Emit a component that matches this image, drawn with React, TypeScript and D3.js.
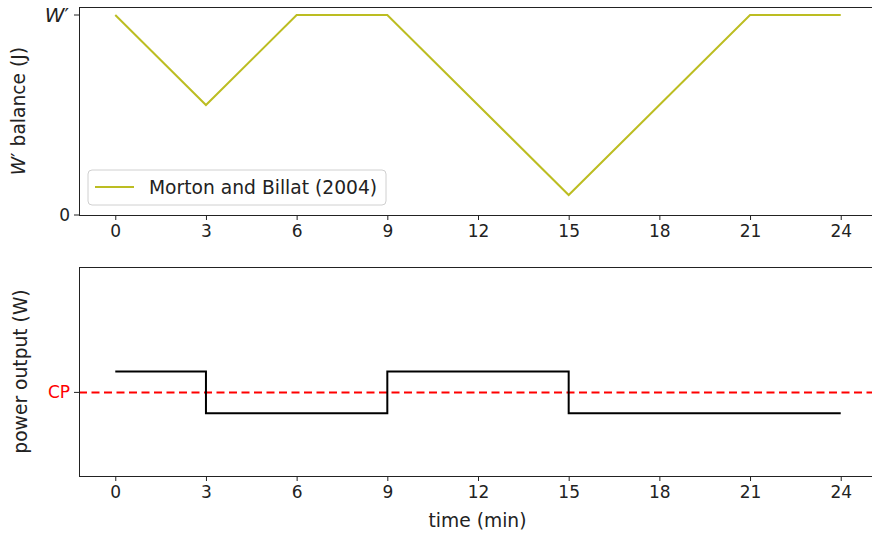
import React, { useEffect, useRef } from 'react';
import * as d3 from 'd3';

// W' balance (fraction of W') over time
const balanceTimes = [0, 3, 6, 9, 15, 21, 24];
const balanceValues = [1, 0.55, 1, 1, 0.1, 1, 1];

// power output relative to CP (step profile)
const powerTimes = [0, 3, 9, 15, 24];
const powerValues = [1.1, 0.9, 1.1, 0.9, 0.9];
const cpValue = 1.0;

const xTicks = [0, 3, 6, 9, 12, 15, 18, 21, 24];
const legendLabel = 'Morton and Billat (2004)';

const FONT = 'DejaVu Sans, sans-serif';
const LABEL_SIZE = 18.7;

const App: React.FC = () => {
  const svgRef = useRef<SVGSVGElement>(null);

  useEffect(() => {
    if (!svgRef.current) return;
    const svg = d3.select(svgRef.current);
    svg.selectAll('*').remove();

    const left = 79;
    const right = 877;

    const x = d3.scaleLinear().domain([-1.2, 25.2]).range([left, right]);

    // ---------- top panel ----------
    const top1 = 7, bottom1 = 215;
    const y1 = d3.scaleLinear().domain([0, 1.04]).range([bottom1, top1]);

    const g1 = svg.append('g');

    const xAxis1 = g1.append('g')
      .attr('transform', `translate(0,${bottom1})`)
      .call(d3.axisBottom(x).tickValues(xTicks).tickSize(5).tickPadding(5).tickFormat(d3.format('d')));
    xAxis1.select('.domain').remove();

    g1.append('path')
      .datum(balanceTimes.map((t, i) => [t, balanceValues[i]] as [number, number]))
      .attr('fill', 'none')
      .attr('stroke', '#bcbd22')
      .attr('stroke-width', 2)
      .attr('d', d3.line<[number, number]>().x(d => x(d[0])).y(d => y1(d[1])));

    // y ticks
    const yt1 = g1.append('g');
    [0, 1].forEach(v => {
      yt1.append('line')
        .attr('x1', left - 5).attr('x2', left)
        .attr('y1', y1(v)).attr('y2', y1(v))
        .attr('stroke', '#222');
    });
    yt1.append('text')
      .attr('x', left - 9).attr('y', y1(0)).attr('dy', '0.35em')
      .attr('text-anchor', 'end')
      .text('0');
    const wt = yt1.append('text')
      .attr('x', left - 10).attr('y', y1(1)).attr('dy', '0.35em')
      .attr('text-anchor', 'end')
      .attr('font-size', 20);
    wt.append('tspan').attr('font-style', 'italic').text('W');
    wt.append('tspan').text('\u2032');

    g1.append('rect')
      .attr('x', left + 0.5).attr('y', top1 + 0.5)
      .attr('width', right - left).attr('height', bottom1 - top1)
      .attr('fill', 'none').attr('stroke', '#222');

    const yl1 = g1.append('text')
      .attr('transform', `translate(25,${(top1 + bottom1) / 2}) rotate(-90)`)
      .attr('text-anchor', 'middle')
      .attr('font-size', LABEL_SIZE);
    yl1.append('tspan').attr('font-style', 'italic').text('W');
    yl1.append('tspan').text('\u2032 balance (J)');

    // legend
    const lg = g1.append('g').attr('transform', 'translate(88,170)');
    lg.append('rect')
      .attr('width', 298).attr('height', 35).attr('rx', 4)
      .attr('fill', 'white').attr('fill-opacity', 0.8)
      .attr('stroke', '#d0d0d0');
    lg.append('line')
      .attr('x1', 7).attr('x2', 46).attr('y1', 17).attr('y2', 17)
      .attr('stroke', '#bcbd22').attr('stroke-width', 2);
    lg.append('text')
      .attr('x', 61).attr('y', 17).attr('dy', '0.35em')
      .attr('font-size', LABEL_SIZE)
      .attr('fill', '#222')
      .text(legendLabel);

    // ---------- bottom panel ----------
    const top2 = 267, bottom2 = 476;
    const y2 = d3.scaleLinear().domain([0.6, 1.6]).range([bottom2, top2]);
    const g2 = svg.append('g');

    const xAxis2 = g2.append('g')
      .attr('transform', `translate(0,${bottom2})`)
      .call(d3.axisBottom(x).tickValues(xTicks).tickSize(5).tickPadding(5).tickFormat(d3.format('d')));
    xAxis2.select('.domain').remove();

    g2.append('line')
      .attr('x1', left).attr('x2', right)
      .attr('y1', y2(cpValue)).attr('y2', y2(cpValue))
      .attr('stroke', 'red').attr('stroke-width', 2)
      .attr('stroke-dasharray', '8,4.5');

    g2.append('path')
      .datum(powerTimes.map((t, i) => [t, powerValues[i]] as [number, number]))
      .attr('fill', 'none')
      .attr('stroke', 'black')
      .attr('stroke-width', 2)
      .attr('d', d3.line<[number, number]>().x(d => x(d[0])).y(d => y2(d[1])).curve(d3.curveStepAfter));

    g2.append('line')
      .attr('x1', left - 5).attr('x2', left)
      .attr('y1', y2(cpValue)).attr('y2', y2(cpValue))
      .attr('stroke', '#222');
    g2.append('text')
      .attr('x', left - 9).attr('y', y2(cpValue)).attr('dy', '0.35em')
      .attr('text-anchor', 'end')
      .attr('fill', 'red')
      .text('CP');

    g2.append('rect')
      .attr('x', left + 0.5).attr('y', top2 + 0.5)
      .attr('width', right - left).attr('height', bottom2 - top2)
      .attr('fill', 'none').attr('stroke', '#222');

    g2.append('text')
      .attr('transform', `translate(27,${(top2 + bottom2) / 2}) rotate(-90)`)
      .attr('text-anchor', 'middle')
      .attr('font-size', LABEL_SIZE)
      .text('power output (W)');

    g2.append('text')
      .attr('x', (left + right) / 2 - 0.5).attr('y', 527)
      .attr('text-anchor', 'middle')
      .attr('font-size', LABEL_SIZE)
      .text('time (min)');

    // common tick styling
    svg.selectAll('.tick line').attr('stroke', '#222');
    svg.selectAll('.tick text').attr('font-size', 17).attr('font-family', FONT).attr('fill', '#222');
  }, []);

  return (
    <svg
      ref={svgRef}
      width={872}
      height={533}
      style={{ position: 'absolute', left: 0, top: 0, background: 'white' }}
      fontFamily={FONT}
      fontSize={17}
      fill="#222"
    />
  );
};

export default App;
